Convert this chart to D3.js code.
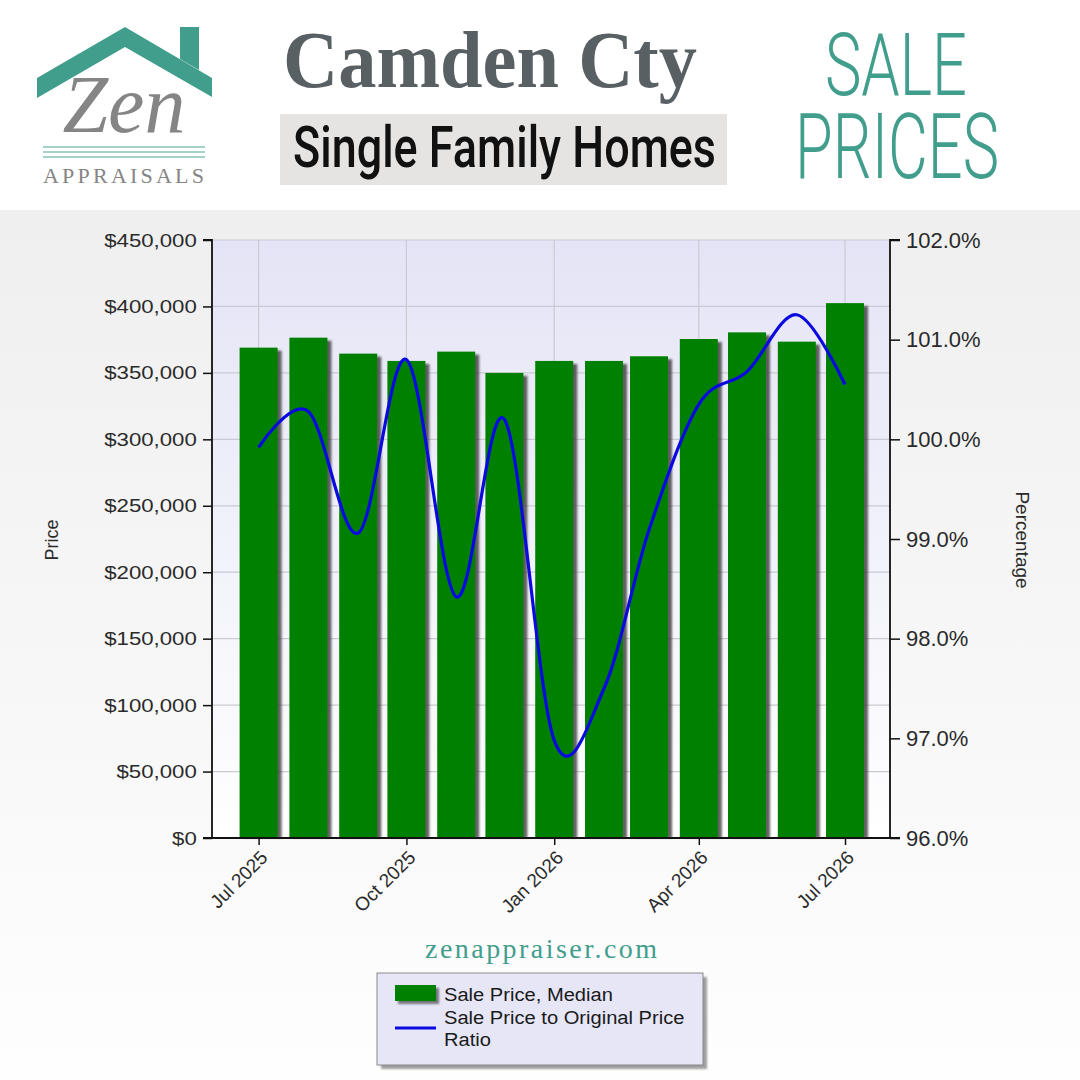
<!DOCTYPE html>
<html><head><meta charset="utf-8">
<script src="https://cdn.jsdelivr.net/npm/d3@7"></script>
<style>html,body{margin:0;padding:0;background:#fff;}svg{display:block;}</style>
</head><body>
<svg id="c" width="1080" height="1080"></svg>
<script>
const months = ["2025-07","2025-08","2025-09","2025-10","2025-11","2025-12","2026-01","2026-02","2026-03","2026-04","2026-05","2026-06","2026-07"];
const salePrice = [369000,376500,364500,359000,366000,350000,359000,359000,362500,375500,380500,373500,402500];
const ratio = [99.92,100.28,99.06,100.8,98.42,100.2,96.98,97.5,99.09,100.35,100.68,101.25,100.55];
const xTickLabels = ["2025-07","2025-10","2026-01","2026-04","2026-07"];
const priceTicks = [0,50000,100000,150000,200000,250000,300000,350000,400000,450000];
const pctTicks = [96,97,98,99,100,101,102];
const seriesNames = ["Sale Price, Median","Sale Price to Original Price","Ratio"];

const parse = d3.timeParse("%Y-%m");
const svg = d3.select("#c");
const defs = svg.append("defs");
const bgG = defs.append("linearGradient").attr("id","bg").attr("x1",0).attr("y1",0).attr("x2",0).attr("y2",1);
bgG.append("stop").attr("offset","0%").attr("stop-color","#efefef");
bgG.append("stop").attr("offset","100%").attr("stop-color","#fefefe");
const plG = defs.append("linearGradient").attr("id","pl").attr("x1",0).attr("y1",0).attr("x2",0).attr("y2",1);
plG.append("stop").attr("offset","0%").attr("stop-color","#e4e4f6");
plG.append("stop").attr("offset","100%").attr("stop-color","#ffffff");
const blur = defs.append("filter").attr("id","blur").attr("x","-20%").attr("y","-20%").attr("width","140%").attr("height","140%");
blur.append("feGaussianBlur").attr("stdDeviation",1.2);

// backgrounds
svg.append("rect").attr("x",0).attr("y",0).attr("width",1080).attr("height",210).attr("fill","#ffffff");
svg.append("rect").attr("x",0).attr("y",210).attr("width",1080).attr("height",870).attr("fill","url(#bg)");

// ---- header ----
const teal = "#419e8c";
const logo = svg.append("g");
logo.append("polygon").attr("points","37,78 125,27 212,78 212,97 125,47 37,98").attr("fill",teal);
logo.append("polygon").attr("points","180,27 199,27 199,70 180,59").attr("fill",teal);
logo.append("text").attr("x",124).attr("y",132).attr("text-anchor","middle")
  .attr("font-family","Liberation Serif").attr("font-style","italic").attr("font-size",82)
  .attr("fill","#858585").text("Zen");
[147,152,157].forEach(y=>logo.append("line").attr("x1",43).attr("x2",205).attr("y1",y).attr("y2",y)
  .attr("stroke","#86c3b7").attr("stroke-width",1.6));
logo.append("text").attr("x",43).attr("y",183).attr("textLength",161).attr("lengthAdjust","spacing")
  .attr("font-family","Liberation Serif").attr("font-size",22).attr("fill","#858585").text("APPRAISALS");

svg.append("text").attr("x",283).attr("y",87).attr("textLength",414).attr("lengthAdjust","spacingAndGlyphs")
  .attr("font-family","Liberation Serif").attr("font-weight","bold").attr("font-size",80)
  .attr("fill","#596064").text("Camden Cty");
svg.append("rect").attr("x",280).attr("y",114).attr("width",447).attr("height",71).attr("fill","#e5e4e2");
svg.append("text").attr("x",293).attr("y",167).attr("textLength",423).attr("lengthAdjust","spacingAndGlyphs")
  .attr("font-family","Roboto").attr("font-weight",500).attr("font-size",57)
  .attr("fill","#111").text("Single Family Homes");
svg.append("text").attr("x",825).attr("y",95).attr("textLength",142).attr("lengthAdjust","spacingAndGlyphs")
  .attr("font-family","Roboto").attr("font-weight",300).attr("font-size",88)
  .attr("fill",teal).text("SALE");
svg.append("text").attr("x",795).attr("y",178).attr("textLength",204).attr("lengthAdjust","spacingAndGlyphs")
  .attr("font-family","Roboto").attr("font-weight",300).attr("font-size",90)
  .attr("fill",teal).text("PRICES");

// ---- chart ----
const L=212, R=890, T=240, B=838;
const x = d3.scaleTime().domain([new Date(2025,5,2), new Date(2026,6,29)]).range([L,R]);
const yL = d3.scaleLinear().domain([0,450000]).range([B,T]);
const yR = d3.scaleLinear().domain([96,102]).range([B,T]);

svg.append("rect").attr("x",L).attr("y",T).attr("width",R-L).attr("height",B-T).attr("fill","url(#pl)");
// gridlines
const grid = svg.append("g").attr("stroke","#cacad2").attr("stroke-width",1.2);
priceTicks.forEach(v=>grid.append("line").attr("x1",L).attr("x2",R).attr("y1",yL(v)).attr("y2",yL(v)));
xTickLabels.forEach(m=>grid.append("line").attr("x1",x(parse(m))).attr("x2",x(parse(m))).attr("y1",T).attr("y2",B));

const data = months.map((m,i)=>({d:parse(m), p:salePrice[i], r:ratio[i]}));
const bw = 38;
svg.append("g").selectAll("rect").data(data).join("rect")
  .attr("x",d=>x(d.d)-bw/2+4).attr("y",d=>yL(d.p)+3).attr("width",bw).attr("height",d=>B-yL(d.p)-3)
  .attr("fill","#3a3a3a").attr("opacity",0.8).attr("filter","url(#blur)");
svg.append("g").selectAll("rect").data(data).join("rect")
  .attr("x",d=>x(d.d)-bw/2).attr("y",d=>yL(d.p)).attr("width",bw).attr("height",d=>B-yL(d.p))
  .attr("fill","#008000");

const line = d3.line().x(d=>x(d.d)).y(d=>yR(d.r)).curve(d3.curveCardinal.tension(0));
svg.append("path").datum(data).attr("d",line).attr("fill","none").attr("stroke","#0a0ae0").attr("stroke-width",3.2);

// axes
const axL = svg.append("g").attr("transform",`translate(${L},0)`)
  .call(d3.axisLeft(yL).tickValues(priceTicks).tickSize(9).tickPadding(4).tickFormat(d3.format("$,.0f")));
const axR = svg.append("g").attr("transform",`translate(${R},0)`)
  .call(d3.axisRight(yR).tickValues(pctTicks).tickSize(10).tickPadding(6).tickFormat(d=>d3.format(".1f")(d)+"%"));
const axB = svg.append("g").attr("transform",`translate(0,${B})`)
  .call(d3.axisBottom(x).tickValues(xTickLabels.map(parse)).tickSize(7).tickFormat(d3.timeFormat("%b %Y")));
[axL,axR,axB].forEach(a=>{
  a.select(".domain").attr("stroke","#111").attr("stroke-width",1.8);
  a.selectAll(".tick line").attr("stroke","#111").attr("stroke-width",1.5);
  a.selectAll("text").attr("fill","#2a2a2a").attr("font-family","Liberation Sans");
});
axL.select(".domain").attr("d",`M-9,${T}H0V${B}H-9`);
axR.select(".domain").attr("d",`M10,${T}H0V${B}H10`);
axB.select(".domain").attr("d",`M${L},0H${R}`);
axL.selectAll("text").attr("font-size",19).attr("transform","scale(1.17,1)");
axR.selectAll("text").attr("font-size",22);
axB.selectAll("text").attr("font-size",19).attr("text-anchor","end")
  .attr("y",0).attr("dy","0.35em").attr("transform","translate(5,16) rotate(-45)");

svg.append("text").attr("transform","translate(58,540) rotate(-90)").attr("text-anchor","middle")
  .attr("font-family","Liberation Sans").attr("font-size",18).attr("fill","#2a2a2a").text("Price");
svg.append("text").attr("transform","translate(1016,540) rotate(90)").attr("text-anchor","middle")
  .attr("font-family","Liberation Sans").attr("font-size",19).attr("fill","#2a2a2a").text("Percentage");

// site
svg.append("text").attr("x",425).attr("y",958).attr("textLength",232).attr("lengthAdjust","spacing")
  .attr("font-family","Liberation Serif").attr("font-size",28).attr("fill",teal).text("zenappraiser.com");

// legend
const lg = svg.append("g");
lg.append("rect").attr("x",381).attr("y",977).attr("width",326).attr("height",92).attr("fill","#777").attr("opacity",0.7).attr("filter","url(#blur)");
lg.append("rect").attr("x",377).attr("y",973).attr("width",326).attr("height",92).attr("fill","#e6e6f6").attr("stroke","#8a8a8a").attr("stroke-width",1);
lg.append("rect").attr("x",398).attr("y",988).attr("width",41).attr("height",16).attr("fill","#444").attr("opacity",0.7).attr("filter","url(#blur)");
lg.append("rect").attr("x",395).attr("y",985).attr("width",41).attr("height",16).attr("fill","#008000");
lg.append("line").attr("x1",395).attr("x2",436).attr("y1",1028).attr("y2",1028).attr("stroke","#0a0ae0").attr("stroke-width",3);
const lt = [[1001,seriesNames[0]],[1024,seriesNames[1]],[1046,seriesNames[2]]];
lt.forEach(([y,t])=>lg.append("text").attr("x",444).attr("y",y).attr("font-family","Liberation Sans")
  .attr("font-size",19).attr("fill","#1a1a1a").attr("transform",`translate(${444*(1-1.06)},0) scale(1.06,1)`).text(t));
</script>
</body></html>
